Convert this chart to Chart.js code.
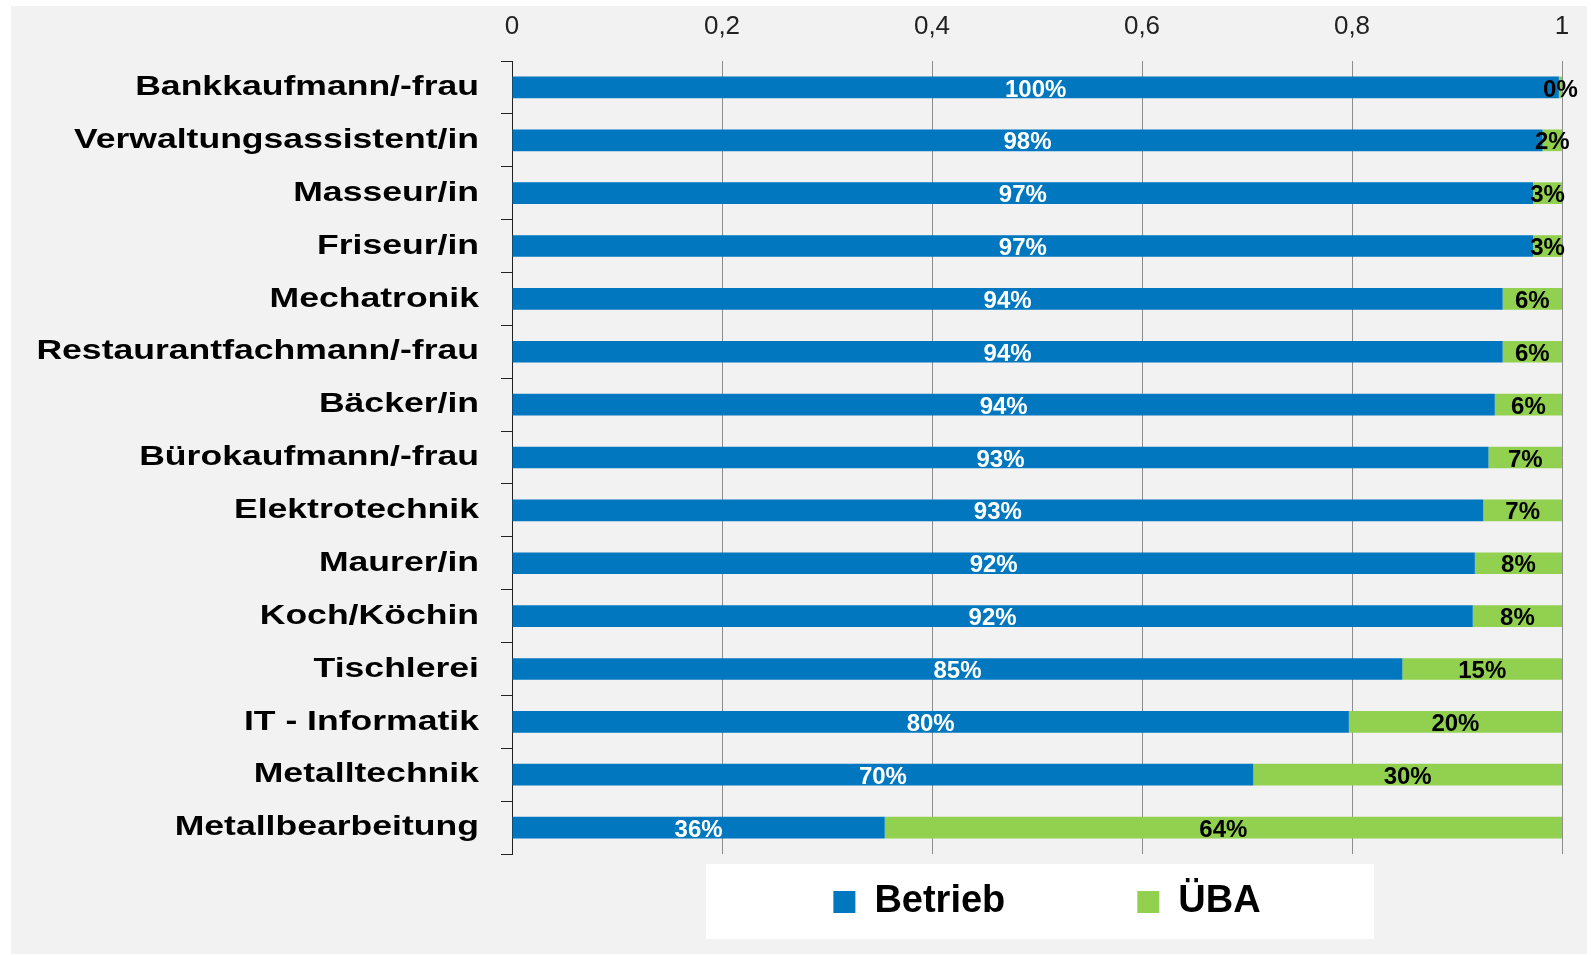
<!DOCTYPE html>
<html>
<head>
<meta charset="utf-8">
<script src="https://cdn.jsdelivr.net/npm/chart.js@4.4.1/dist/chart.umd.min.js"></script>
<style>
  html, body { margin: 0; padding: 0; background: #ffffff; }
  #wrap { width: 1591px; height: 955px; }
</style>
</head>
<body>
<div id="wrap"><canvas id="c" width="1591" height="955"></canvas></div>
<script>
const categories = [
  'Bankkaufmann/-frau', 'Verwaltungsassistent/in', 'Masseur/in', 'Friseur/in',
  'Mechatronik', 'Restaurantfachmann/-frau', 'Bäcker/in', 'Bürokaufmann/-frau',
  'Elektrotechnik', 'Maurer/in', 'Koch/Köchin', 'Tischlerei', 'IT - Informatik',
  'Metalltechnik', 'Metallbearbeitung'
];
const seriesNames = ['Betrieb', 'ÜBA'];
const betrieb = [0.997, 0.9815, 0.9725, 0.9725, 0.9435, 0.9435, 0.936, 0.930, 0.925, 0.917, 0.915, 0.848, 0.797, 0.706, 0.355];
const uba     = [0.003, 0.0185, 0.0275, 0.0275, 0.0565, 0.0565, 0.064, 0.070, 0.075, 0.083, 0.085, 0.152, 0.203, 0.294, 0.645];
const betriebLabels = ['100%', '98%', '97%', '97%', '94%', '94%', '94%', '93%', '93%', '92%', '92%', '85%', '80%', '70%', '36%'];
const ubaLabels     = ['0%', '2%', '3%', '3%', '6%', '6%', '6%', '7%', '7%', '8%', '8%', '15%', '20%', '30%', '64%'];
const xTickLabels = ['0', '0,2', '0,4', '0,6', '0,8', '1'];

const BLUE = '#0077BE';
const GREEN = '#92D050';
const FONT = '"Liberation Sans", Arial, Helvetica, sans-serif';
const LABEL_STRETCH = 1.27;
const LEGEND_PAD = 132;

const backgroundPlugin = {
  id: 'bg',
  beforeDraw(chart) {
    const ctx = chart.ctx;
    const a = chart.chartArea;
    ctx.save();
    ctx.fillStyle = '#ffffff';
    ctx.fillRect(0, 0, chart.width, chart.height);
    ctx.fillStyle = '#F2F2F2';
    ctx.fillRect(11, 6, 1576, 948);
    // white legend panel
    ctx.fillStyle = '#ffffff';
    ctx.fillRect(a.left + 194, a.bottom + 10, 668, 75);
    ctx.restore();
  }
};

const layoutTweaks = {
  id: 'layoutTweaks',
  afterLayout(chart) {
    const ys = chart.scales.y;
    if (ys && !ys.__stretched) {
      const orig = ys.drawLabels;
      ys.drawLabels = function (area) {
        const ctx = this.ctx;
        const ax = this.right - this.options.grid.tickLength - this.options.ticks.padding;
        ctx.save();
        ctx.translate(ax, 0);
        ctx.scale(LABEL_STRETCH, 1);
        ctx.translate(-ax, 0);
        orig.call(this, area);
        ctx.restore();
      };
      ys.__stretched = true;
    }
    const lg = chart.legend;
    if (lg) {
      // place the legend row just below the plot, keeping the wide item spacing
      lg.top = chart.chartArea.bottom + 29 - LEGEND_PAD;
      lg.bottom = chart.height;
      lg.left += 10;
      lg.right += 10;
    }
  }
};

const dataLabels = {
  id: 'dataLabels',
  afterDatasetsDraw(chart) {
    const ctx = chart.ctx;
    const texts = [betriebLabels, ubaLabels];
    const colors = ['#ffffff', '#000000'];
    ctx.save();
    ctx.font = 'bold 24px ' + FONT;
    ctx.textAlign = 'center';
    ctx.textBaseline = 'middle';
    chart.data.datasets.forEach((ds, di) => {
      const meta = chart.getDatasetMeta(di);
      ctx.fillStyle = colors[di];
      meta.data.forEach((bar, i) => {
        const p = bar.getProps(['x', 'y', 'base'], true);
        ctx.fillText(texts[di][i], (p.x + p.base) / 2, p.y + 2.5);
      });
    });
    ctx.restore();
  }
};

new Chart(document.getElementById('c'), {
  type: 'bar',
  data: {
    labels: categories,
    datasets: [
      { label: seriesNames[0], data: betrieb, backgroundColor: BLUE, borderWidth: 0,
        barPercentage: 0.41, categoryPercentage: 1 },
      { label: seriesNames[1], data: uba, backgroundColor: GREEN, borderWidth: 0,
        barPercentage: 0.41, categoryPercentage: 1 }
    ]
  },
  options: {
    indexAxis: 'y',
    responsive: false,
    animation: false,
    devicePixelRatio: 1,
    layout: { padding: { top: 11, right: 29, left: 0, bottom: 0 } },
    scales: {
      x: {
        position: 'top',
        stacked: true,
        min: 0,
        max: 1,
        ticks: {
          stepSize: 0.2,
          padding: 19,
          color: '#222222',
          font: { family: FONT, size: 26 },
          maxRotation: 0,
          callback: (v, i) => xTickLabels[i]
        },
        grid: { color: '#8C8C8C', lineWidth: 1, drawTicks: false },
        border: { display: false },
        afterFit: (s) => { s.height = 50; }
      },
      y: {
        stacked: true,
        ticks: {
          padding: 22,
          color: '#000000',
          autoSkip: false,
          font: { family: FONT, size: 28, weight: 'bold' }
        },
        grid: { drawOnChartArea: false, drawTicks: true, tickLength: 11, color: '#222222', lineWidth: 1 },
        border: { display: true, color: '#222222', width: 1 },
        afterFit: (s) => { s.width = 512; }
      }
    },
    plugins: {
      legend: {
        position: 'bottom',
        fullSize: false,
        align: 'center',
        maxHeight: 101,
        labels: {
          boxWidth: 22,
          boxHeight: 22,
          padding: LEGEND_PAD,
          color: '#000000',
          font: { family: FONT, size: 38, weight: 'bold' }
        }
      },
      tooltip: { enabled: false },
      title: { display: false }
    }
  },
  plugins: [backgroundPlugin, layoutTweaks, dataLabels]
});
</script>
</body>
</html>
